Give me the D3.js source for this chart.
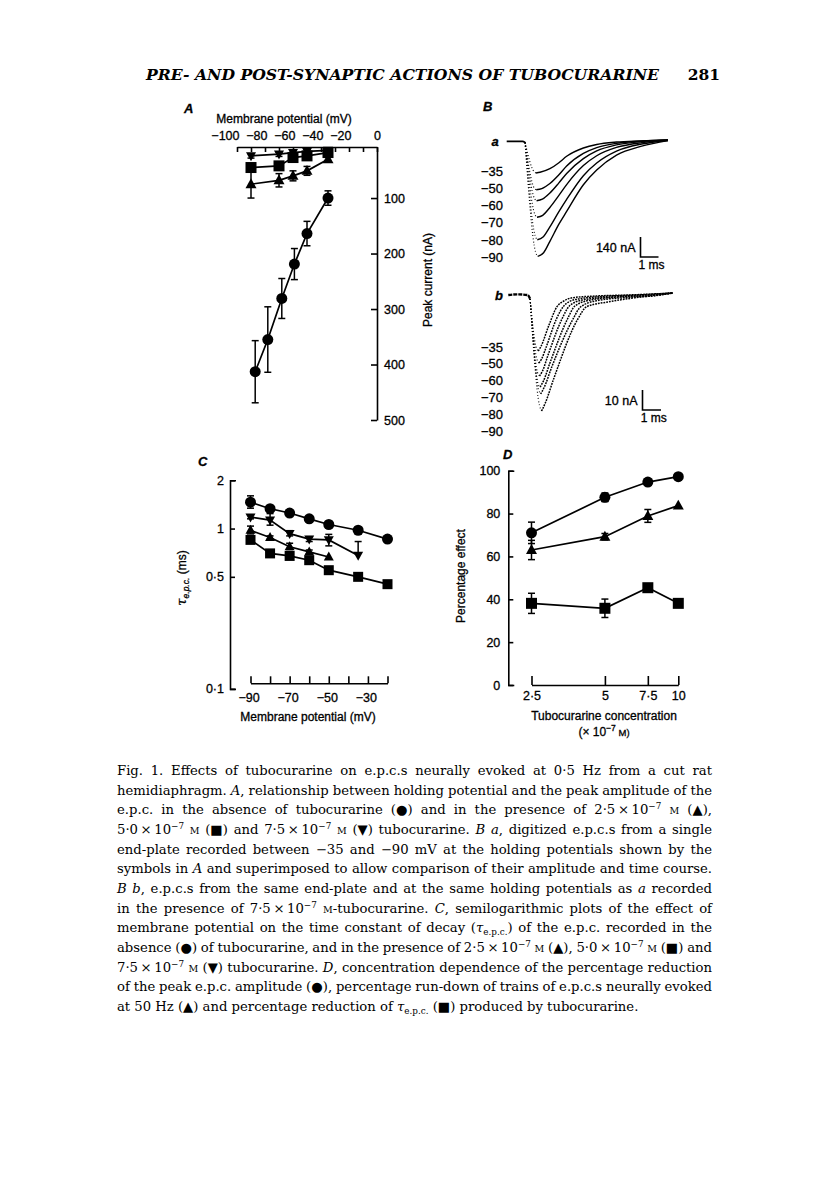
<!DOCTYPE html>
<html><head><meta charset="utf-8">
<script src="https://cdn.jsdelivr.net/npm/d3@7"></script>
<style>body{margin:0;background:#fff}</style>
</head><body>
<svg id="fig" width="816" height="1191" xmlns="http://www.w3.org/2000/svg"></svg>
<script>
// ---------------- DATA ----------------
// Panel A: peak e.p.c. (nA) vs membrane potential (mV)
const aCtrlV = [-35, -50, -59, -68, -78, -87];
const aCtrlI = [100, 164, 219, 281, 355, 413];
const aCtrlErr = [13, 22, 28, 36, 59, 56];
const aTubV = [-90, -70, -60, -50, -35];
const aTri25I = [75, 68, 60, 51, 30];
const aTri25Err = [25, 12, 9, 8, 4];
const aSq50I = [45, 42, 27, 24, 18];
const aSq50Err = [4, 5, 6, 4, 3];
const aInv75I = [24, 21, 18, 16, 14];
const aInv75Err = [4, 4, 3, 3, 2];
const aTopTicks = [-100, -90, -80, -70, -60, -50, -40, -30, -20, -10, 0];
const aRightTicks = [100, 200, 300, 400, 500];

// Panel B: digitized e.p.c. traces [time ms, current nA]
const bLabels = ["−35", "−50", "−60", "−70", "−80", "−90"];
const traceAPre = [[0, 0], [0.88, 0], [1.02, -8]];
const traceA = [
  [[1.52, -213], [1.63, -222], [1.85, -217], [2.4, -192], [2.9, -150], [3.33, -105], [4.26, -47], [5.0, -22], [6.1, -5], [7.5, 3], [8.96, 10]],
  [[1.52, -325], [1.64, -339], [1.95, -331], [2.4, -295], [2.9, -234], [3.33, -173], [4.26, -85], [5.0, -44], [6.1, -14], [7.5, 2], [8.96, 9]],
  [[1.54, -400], [1.66, -416], [1.98, -405], [2.4, -362], [2.9, -291], [3.33, -225], [4.26, -121], [5.0, -67], [6.1, -25], [7.5, -2], [8.96, 8]],
  [[1.56, -511], [1.68, -532], [2.0, -518], [2.4, -463], [2.9, -378], [3.33, -303], [4.26, -170], [5.0, -101], [6.1, -43], [7.5, -9], [8.96, 7]],
  [[1.58, -661], [1.70, -689], [2.02, -670], [2.4, -599], [2.9, -493], [3.33, -407], [4.26, -241], [5.0, -152], [6.1, -69], [7.5, -19], [8.96, 6]],
  [[1.60, -773], [1.72, -805], [2.05, -780], [2.4, -700], [2.9, -580], [3.33, -491], [4.26, -304], [5.0, -201], [6.1, -97], [7.5, -34], [8.96, 5]]
];
const traceBPre = [[0, 0], [0.5, 0.3], [1.05, 0], [1.18, -2]];
const traceB = [
  [[1.5, -26], [1.62, -28], [1.75, -26], [2.2, -15], [2.62, -6], [3.0, -3], [3.4, -1.5], [4.5, -0.6], [6.5, 0], [8.9, 1]],
  [[1.54, -32], [1.66, -34], [1.8, -32], [2.05, -26], [2.6, -12], [3.0, -5.5], [3.6, -2.3], [5.0, -0.8], [7.0, 0], [8.9, 1]],
  [[1.57, -38.5], [1.69, -40.5], [1.85, -38], [2.15, -30], [2.9, -12], [3.3, -5.5], [4.0, -2.5], [5.5, -1], [7.5, 0], [8.9, 1]],
  [[1.6, -44], [1.72, -46], [1.9, -43], [2.25, -34], [3.2, -12], [3.6, -5.5], [4.4, -2.6], [6.0, -1], [7.8, -0.2], [8.9, 1]],
  [[1.63, -47], [1.75, -49.5], [1.95, -46], [2.35, -36], [3.5, -12], [3.9, -6], [4.8, -2.8], [6.5, -1.2], [8.0, -0.3], [8.9, 1]],
  [[1.68, -55], [1.8, -58], [2.0, -54], [2.45, -42], [3.76, -12], [4.24, -5.8], [5.5, -3.3], [7.3, -0.8], [8.9, 1]]
];

// Panel C: tau e.p.c. (ms) vs membrane potential (mV)
const cV = [-90, -80, -70, -60, -50, -35, -20];
const cCtrl = [1.46, 1.33, 1.25, 1.15, 1.06, 0.976, 0.86];
const cCtrlErrUp = [0.14, 0.04, 0, 0, 0, 0, 0];
const cCtrlErrDn = [0.12, 0.04, 0, 0, 0, 0, 0];
const cInv75 = [1.18, 1.13, 0.93, 0.86, 0.85, 0.68];
const cInvErrUp = [0.04, 0.11, 0.04, 0.03, 0.07, 0.15];
const cInvErrDn = [0.03, 0.08, 0.03, 0.03, 0.07, 0];
const cTri25 = [0.976, 0.88, 0.77, 0.715, 0.665];
const cTriErrUp = [0.06, 0.02, 0.04, 0.02, 0];
const cTriErrDn = [0.05, 0.02, 0.03, 0.02, 0];
const cSq50 = [0.85, 0.70, 0.675, 0.635, 0.55, 0.50, 0.45];
const cYTicks = [0.1, 0.5, 1, 2];
const cYTickLabels = ["0·1", "0·5", "1", "2"];
const cXTicks = [-90, -80, -70, -60, -50, -40, -30, -20];

// Panel D: percentage effect vs tubocurarine concentration (x10^-7 M)
const dConc = [2.5, 5, 7.5, 10];
const dAmp = [71, 87.6, 94.7, 97.2];
const dAmpErr = [5, 2, 1.5, 0];
const dRun = [63, 69.2, 78.9, 83.7];
const dRunErr = [4.5, 1.5, 3, 0];
const dTau = [38.1, 35.8, 45.4, 38.1];
const dTauErr = [4.7, 4.3, 1.5, 0];
const dXTickLabels = ["2·5", "5", "7·5", "10"];
const dYTicks = [0, 20, 40, 60, 80, 100];

// Caption (thin spaces around ×)
const captionLines = [
  "Fig. 1. Effects of tubocurarine on e.p.c.s neurally evoked at 0·5 Hz from a cut rat",
  "hemidiaphragm. _A_, relationship between holding potential and the peak amplitude of the",
  "e.p.c. in the absence of tubocurarine (●) and in the presence of 2·5\u2009×\u200910^−7^ {M} (▲),",
  "5·0\u2009×\u200910^−7^ {M} (■) and 7·5\u2009×\u200910^−7^ {M} (▼) tubocurarine. _B a_, digitized e.p.c.s from a single",
  "end-plate recorded between −35 and −90 mV at the holding potentials shown by the",
  "symbols in _A_ and superimposed to allow comparison of their amplitude and time course.",
  "_B b_, e.p.c.s from the same end-plate and at the same holding potentials as _a_ recorded",
  "in the presence of 7·5\u2009×\u200910^−7^ {M}-tubocurarine. _C_, semilogarithmic plots of the effect of",
  "membrane potential on the time constant of decay (_τ_~e.p.c.~) of the e.p.c. recorded in the",
  "absence (●) of tubocurarine, and in the presence of 2·5\u2009×\u200910^−7^ {M} (▲), 5·0\u2009×\u200910^−7^ {M} (■) and",
  "7·5\u2009×\u200910^−7^ {M} (▼) tubocurarine. _D_, concentration dependence of the percentage reduction",
  "of the peak e.p.c. amplitude (●), percentage run-down of trains of e.p.c.s neurally evoked",
  "at 50 Hz (▲) and percentage reduction of _τ_~e.p.c.~ (■) produced by tubocurarine."
];

// ---------------- DRAWING ----------------
const SANS = "'Liberation Sans', Arial, Helvetica, sans-serif";
const SERIF = "'DejaVu Serif', 'Liberation Serif', serif";
const svg = d3.select("#fig");
svg.append("rect").attr("width", 816).attr("height", 1191).attr("fill", "#fff");

function marker(g, shape, cx, cy, s) {
  const h = s * 0.9;
  if (shape === "circle") g.append("circle").attr("cx", cx).attr("cy", cy).attr("r", s / 2).attr("fill", "#000");
  else if (shape === "square") g.append("rect").attr("x", cx - s / 2).attr("y", cy - s / 2).attr("width", s).attr("height", s).attr("fill", "#000");
  else if (shape === "tri") g.append("path").attr("d", `M${cx},${cy - h * 0.6}L${cx + s / 2},${cy + h * 0.4}L${cx - s / 2},${cy + h * 0.4}Z`).attr("fill", "#000");
  else if (shape === "inv") g.append("path").attr("d", `M${cx},${cy + h * 0.6}L${cx + s / 2},${cy - h * 0.4}L${cx - s / 2},${cy - h * 0.4}Z`).attr("fill", "#000");
}

function series(g, xs, ys, errUp, errDn, shape, size, x, y) {
  const idx = d3.range(ys.length);
  const line = d3.line().x(i => x(xs[i])).y(i => y(ys[i]));
  g.append("path").datum(idx).attr("d", line).attr("fill", "none").attr("stroke", "#000").attr("stroke-width", 1.7);
  idx.forEach(i => {
    const up = errUp ? errUp[i] : 0, dn = errDn ? errDn[i] : 0;
    const cx = x(xs[i]);
    if (up > 0) {
      const yt = y(ys[i] + up);
      g.append("line").attr("x1", cx).attr("x2", cx).attr("y1", y(ys[i])).attr("y2", yt).attr("stroke", "#000").attr("stroke-width", 1.5);
      g.append("line").attr("x1", cx - 3.5).attr("x2", cx + 3.5).attr("y1", yt).attr("y2", yt).attr("stroke", "#000").attr("stroke-width", 1.5);
    }
    if (dn > 0) {
      const yb = y(ys[i] - dn);
      g.append("line").attr("x1", cx).attr("x2", cx).attr("y1", y(ys[i])).attr("y2", yb).attr("stroke", "#000").attr("stroke-width", 1.5);
      g.append("line").attr("x1", cx - 3.5).attr("x2", cx + 3.5).attr("y1", yb).attr("y2", yb).attr("stroke", "#000").attr("stroke-width", 1.5);
    }
  });
  idx.forEach(i => marker(g, shape, x(xs[i]), y(ys[i]), size));
}

function heavy(sel) { return sel.attr("stroke", "#000").attr("stroke-width", 0.3); }

function styleAxis(g, size) {
  g.selectAll("path,line").attr("stroke", "#000").attr("stroke-width", 1.6);
  heavy(g.selectAll("text").attr("font-family", SANS).attr("font-size", size || 12.5).attr("fill", "#000"));
  g.attr("font-family", null).attr("font-size", null);
}

function label(x, y, txt, opts = {}) {
  const t = svg.append("text").attr("x", x).attr("y", y).text(txt)
    .attr("font-family", opts.family || SANS).attr("font-size", opts.size || 12.5)
    .attr("text-anchor", opts.anchor || "start").attr("fill", "#000");
  if (opts.italic) t.attr("font-style", "italic");
  if (opts.bold) t.attr("font-weight", "bold");
  if (opts.rotate) t.attr("transform", `rotate(-90,${x},${y})`);
  if (!opts.family) heavy(t);
  return t;
}

// ---- Header ----
label(146, 80, "PRE- AND POST-SYNAPTIC ACTIONS OF TUBOCURARINE", { family: SERIF, size: 15.5, italic: true, bold: true })
  .attr("textLength", 513).attr("lengthAdjust", "spacingAndGlyphs");
label(720, 80, "281", { family: SERIF, size: 15.5, bold: true, anchor: "end" });

// ---- Panel A ----
const xA = d3.scaleLinear().domain([-100, 0]).range([237, 377]);
const yA = d3.scaleLinear().domain([8, 500]).range([147, 420]);
const gA = svg.append("g");
const axTop = gA.append("g").attr("transform", `translate(0,${yA(8)})`)
  .call(d3.axisTop(xA).tickValues(aTopTicks).tickSizeInner(-5).tickSizeOuter(0).tickPadding(7)
    .tickFormat(d => d % 20 === 0 ? (d < 0 ? "−" + (-d) : "0") : ""));
styleAxis(axTop, 12.5);
axTop.selectAll(".tick text").attr("text-anchor", d => d < 0 ? "end" : "middle").attr("x", d => d < 0 ? 2 : 0);
const axRight = gA.append("g").attr("transform", `translate(${xA(0)},0)`)
  .call(d3.axisRight(yA).tickValues(aRightTicks).tickSizeInner(-6).tickSizeOuter(0).tickPadding(7));
styleAxis(axRight, 12.5);
series(gA, aTubV, aInv75I, aInv75Err, aInv75Err, "inv", 10, xA, yA);
series(gA, aTubV, aSq50I, aSq50Err, aSq50Err, "square", 11, xA, yA);
series(gA, aTubV, aTri25I, aTri25Err, aTri25Err, "tri", 11, xA, yA);
series(gA, aCtrlV, aCtrlI, aCtrlErr, aCtrlErr, "circle", 11, xA, yA);
label(184, 113, "A", { italic: true, bold: true, size: 13 });
label(284, 123, "Membrane potential (mV)", { size: 12, anchor: "middle" });
label(432, 280, "Peak current (nA)", { size: 12, anchor: "middle", rotate: true });

// ---- Panel B ----
const gB = svg.append("g");
const tA = d3.scaleLinear().domain([0, 1]).range([506.7, 524.7]);
const iA = d3.scaleLinear().domain([0, -140]).range([141.3, 161.3]);
const tB = d3.scaleLinear().domain([0, 1]).range([508.3, 526.8]);
const iB = d3.scaleLinear().domain([0, -10]).range([295, 315]);
function drawTraces(pre, traces, tS, iS, decayDash, decayW, preW, preDash) {
  const ln = d3.line().x(d => tS(d[0])).y(d => iS(d[1])).curve(d3.curveMonotoneX);
  const pp = gB.append("path").datum(pre).attr("d", ln).attr("fill", "none").attr("stroke", "#000").attr("stroke-width", preW);
  if (preDash) pp.attr("stroke-dasharray", preDash);
  traces.forEach(tr => {
    const fall = [pre[pre.length - 1], tr[0], tr[1]];
    gB.append("path").datum(fall).attr("d", d3.line().x(d => tS(d[0])).y(d => iS(d[1])).curve(d3.curveMonotoneX))
      .attr("fill", "none").attr("stroke", "#000").attr("stroke-width", 1.1).attr("stroke-dasharray", "1,2.2");
    gB.append("path").datum(tr.slice(1)).attr("d", ln).attr("fill", "none").attr("stroke", "#000")
      .attr("stroke-width", decayW).attr("stroke-dasharray", decayDash);
  });
}
drawTraces(traceAPre, traceA, tA, iA, null, 1.4, 1.7, null);
drawTraces(traceBPre, traceB, tB, iB, "1.8,1", 1.5, 2.4, "4,1");
label(483, 111, "B", { italic: true, bold: true, size: 13 });
label(495, 146, "a", { italic: true, bold: true, size: 13, anchor: "middle" });
label(499, 300, "b", { italic: true, bold: true, size: 13, anchor: "middle" });
bLabels.forEach((t, i) => label(503, 175.5 + i * 17.3, t, { size: 13, anchor: "end" }));
bLabels.forEach((t, i) => label(503, 351.5 + i * 16.8, t, { size: 13, anchor: "end" }));
// scale bars
function scaleBar(x0, yBottom, tS, iS, amp, ampLabel) {
  const h = iS(-amp) - iS(0), w = tS(1) - tS(0);
  gB.append("path").attr("d", `M${x0},${yBottom - h}V${yBottom}H${x0 + w}`).attr("fill", "none").attr("stroke", "#000").attr("stroke-width", 1.6);
  label(x0 - 5, yBottom - h / 2 + 4.5, ampLabel, { size: 12.5, anchor: "end" });
  label(x0 + w / 2 + 2, yBottom + 12, "1 ms", { size: 12, anchor: "middle" });
}
scaleBar(640.5, 257, tA, iA, 140, "140 nA");
scaleBar(642.5, 410, tB, iB, 10, "10 nA");

// ---- Panel C ----
const xC = d3.scaleLinear().domain([-90, -20]).range([250.5, 387.5]);
const yC = d3.scaleLog().domain([0.1, 2]).range([688.9, 480.3]);
const gC = svg.append("g");
const axCY = gC.append("g").attr("transform", "translate(230,0)")
  .call(d3.axisLeft(yC).tickValues(cYTicks).tickSizeInner(-5).tickSizeOuter(-6).tickPadding(6)
    .tickFormat((d, i) => cYTickLabels[i]));
styleAxis(axCY, 12.5);
const axCX = gC.append("g").attr("transform", "translate(0,683.3)")
  .call(d3.axisBottom(xC).tickValues(cXTicks).tickSizeInner(-7).tickSizeOuter(0).tickPadding(10)
    .tickFormat(d => (d === -90 || d === -70 || d === -50 || d === -30) ? "−" + (-d) : ""));
styleAxis(axCX, 12.5);
axCX.selectAll(".tick text").attr("x", -2);
series(gC, cV, cSq50, null, null, "square", 10, xC, yC);
series(gC, cV.slice(0, 5), cTri25, cTriErrUp, cTriErrDn, "tri", 10, xC, yC);
series(gC, cV.slice(0, 6), cInv75, cInvErrUp, cInvErrDn, "inv", 10, xC, yC);
series(gC, cV, cCtrl, cCtrlErrUp, cCtrlErrDn, "circle", 11, xC, yC);
label(198, 466, "C", { italic: true, bold: true, size: 13 });
label(308, 721, "Membrane potential (mV)", { size: 12, anchor: "middle" });
const tauLab = svg.append("text").attr("transform", "translate(186,578) rotate(-90)")
  .attr("text-anchor", "middle").attr("font-family", SANS).attr("font-size", 12).attr("fill", "#000");
heavy(tauLab);
tauLab.append("tspan").attr("font-style", "italic").attr("font-family", SERIF).attr("font-size", 13).text("τ");
tauLab.append("tspan").attr("font-size", 8.5).attr("font-style", "italic").attr("dy", 3).text("e.p.c.");
tauLab.append("tspan").attr("dy", -3).text("  (ms)");

// ---- Panel D ----
const xD = d3.scaleLog().domain([2.5, 10]).range([531.5, 678.3]);
const yD = d3.scaleLinear().domain([0, 100]).range([685, 470.7]);
const gD = svg.append("g");
const axDY = gD.append("g").attr("transform", "translate(508.3,0)")
  .call(d3.axisLeft(yD).tickValues(dYTicks).tickSizeInner(-5).tickSizeOuter(-6).tickPadding(8));
styleAxis(axDY, 12.5);
const axDX = gD.append("g").attr("transform", "translate(0,685)")
  .call(d3.axisBottom(xD).tickValues(dConc).tickSizeInner(-9).tickSizeOuter(0).tickPadding(6)
    .tickFormat((d, i) => dXTickLabels[i]));
styleAxis(axDX, 12.5);
series(gD, dConc, dTau, dTauErr, dTauErr, "square", 11, xD, yD);
series(gD, dConc, dRun, dRunErr, dRunErr, "tri", 11, xD, yD);
series(gD, dConc, dAmp, dAmpErr, dAmpErr, "circle", 11, xD, yD);
label(503, 459, "D", { italic: true, bold: true, size: 13 });
label(465, 576, "Percentage effect", { size: 12, anchor: "middle", rotate: true });
label(604, 720, "Tubocurarine concentration", { size: 12, anchor: "middle" });
const concLab = svg.append("text").attr("x", 604).attr("y", 736).attr("text-anchor", "middle")
  .attr("font-family", SANS).attr("font-size", 12).attr("fill", "#000");
heavy(concLab);
concLab.append("tspan").text("(× 10");
concLab.append("tspan").attr("font-size", 8.5).attr("dy", -5).text("−7");
concLab.append("tspan").attr("dy", 5).attr("font-size", 9.5).text(" M)");

// ---- Caption ----
const capX0 = 117, capX1 = 712, capY0 = 775, capDY = 19.67;
const tokRe = /(_[^_]+_)|(\^[^^]+\^)|(~[^~]+~)|(\{M\})/g;
captionLines.forEach((ln, li) => {
  const t = svg.append("text").attr("x", capX0).attr("y", capY0 + li * capDY)
    .attr("font-family", SERIF).attr("font-size", 13.2).attr("fill", "#000");
  let last = 0, m, pendingDy = 0;
  const add = (txt, fn) => {
    const s = t.append("tspan").text(txt);
    if (pendingDy) { s.attr("dy", pendingDy); pendingDy = 0; }
    if (fn) fn(s);
  };
  tokRe.lastIndex = 0;
  while ((m = tokRe.exec(ln)) !== null) {
    if (m.index > last) add(ln.slice(last, m.index));
    const tok = m[0];
    if (m[1]) add(tok.slice(1, -1), s => s.attr("font-style", "italic"));
    else if (m[2]) { add(tok.slice(1, -1), s => s.attr("font-size", 8.8).attr("dy", (+s.attr("dy") || 0) - 5)); pendingDy = 5; }
    else if (m[3]) { add(tok.slice(1, -1), s => s.attr("font-size", 8.8).attr("dy", (+s.attr("dy") || 0) + 3)); pendingDy = -3; }
    else if (m[4]) add("M", s => s.attr("font-size", 9.5));
    last = m.index + tok.length;
  }
  if (last < ln.length) add(ln.slice(last));
  if (li < captionLines.length - 1) {
    const natural = t.node().getComputedTextLength();
    const spaces = (ln.replace(/[_^~{}]/g, "").match(/ /g) || []).length;
    const target = capX1 - capX0;
    const ws = (target - natural) / spaces;
    if (ws > -1.8) t.attr("word-spacing", ws);
    else t.attr("textLength", target).attr("lengthAdjust", "spacingAndGlyphs");
  }
});
</script>
</body></html>
